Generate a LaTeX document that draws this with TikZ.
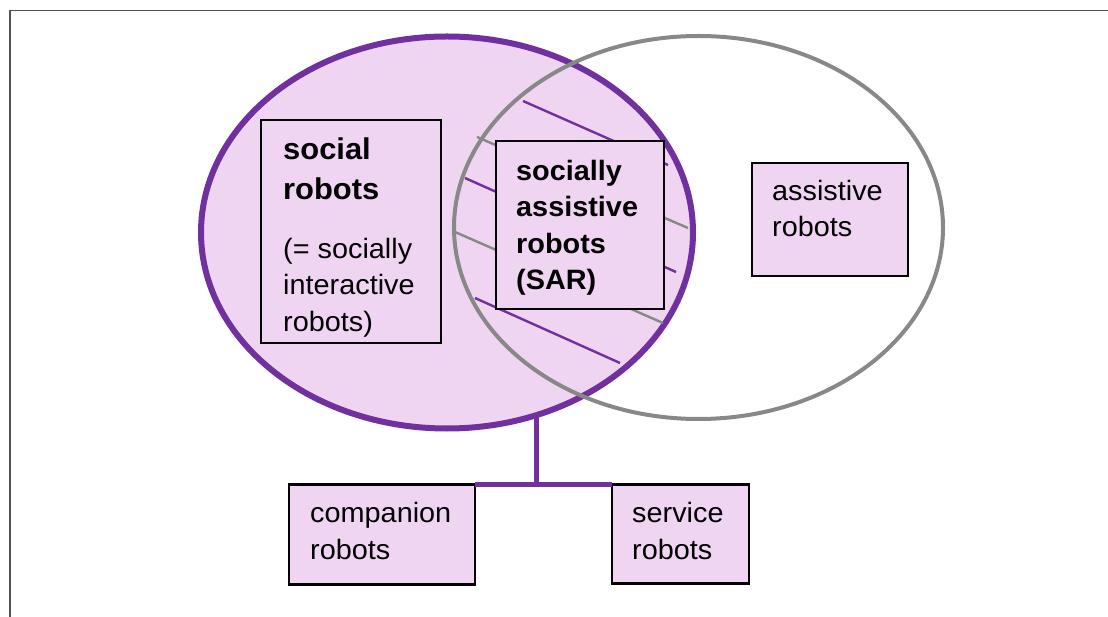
\documentclass[tikz,border=0pt]{standalone}
\usepackage{fontspec}
\setmainfont{Liberation Sans}[FakeStretch=1.03]
\usetikzlibrary{shapes.geometric}
\definecolor{setpurple}{RGB}{112,48,160}
\definecolor{setfill}{RGB}{240,213,242}
\definecolor{setgray}{RGB}{136,136,136}
\definecolor{framegray}{RGB}{80,80,80}
\begin{document}
\begin{tikzpicture}[x=1pt,y=-1pt,
  setshape/.style={ellipse, inner sep=0pt, outer sep=0pt},
  box/.style={draw=black, line width=2.4pt, fill=setfill, inner sep=0pt, outer sep=0pt, anchor=north west},
  boxtext/.style={anchor=north west, inner sep=0pt, align=left, font=\fontsize{28}{36.5}\selectfont},
  titletext/.style={boxtext, font=\fontsize{30}{40}\selectfont\bfseries},
  hatchp/.style={setpurple, line width=2.4pt},
  hatchg/.style={setgray, line width=2.4pt},
  link/.style={setpurple, line width=5pt}]

\useasboundingbox (0,0) rectangle (1108,617);
\fill[white] (0,0) rectangle (1108,617);
\draw[framegray, line width=1.6pt] (10,617) -- (10,10.5) -- (1108,10.5);

% the two sets
\node[setshape, fill=setfill, draw=setpurple, line width=6pt,
      minimum width=492pt, minimum height=392pt] (social) at (447,232.5) {};
\node[setshape, draw=setgray, line width=4pt,
      minimum width=489pt, minimum height=383pt] (assist) at (698.5,227.5) {};

% hatching of the overlap
\draw[hatchp] (523,101) -- (668,165);
\draw[hatchg] (477,137) -- (688,228);
\draw[hatchp] (465,178) -- (676,272);
\draw[hatchg] (455,232) -- (663,323);
\draw[hatchp] (475,298) -- (620,363);

% boxes
\node[box, minimum width=180pt, minimum height=223pt] (socbox) at (261,120) {};
\node[box, minimum width=168pt, minimum height=168pt] (sarbox) at (496,141) {};
\node[box, minimum width=156pt, minimum height=113pt] (asbox) at (752,163) {};
\node[box, minimum width=186pt, minimum height=100pt] (companion) at (289,484.5) {};
\node[box, minimum width=137pt, minimum height=99pt] (service) at (612,484.5) {};

% texts
\node[titletext] (soctitle) at ([shift={(22,18)}]socbox.north west)
  {social\\robots};
\node[boxtext] (socdesc) at ([shift={(22,118)}]socbox.north west)
  {(= socially\\interactive\\robots)};
\node[boxtext, font=\fontsize{28}{36.5}\selectfont\bfseries] (sartext) at ([shift={(20,19)}]sarbox.north west)
  {socially\\assistive\\robots\\(SAR)};
\node[boxtext] (astext) at ([shift={(20,17)}]asbox.north west)
  {assistive\\robots};
\node[boxtext] (comptext) at ([shift={(21,18)}]companion.north west)
  {companion\\robots};
\node[boxtext] (servtext) at ([shift={(20,18)}]service.north west)
  {service\\robots};

% links to the subtypes
\coordinate (tee) at (social.-64.2 |- companion.north);
\draw[link] (social.-64.2) -- (tee);
\draw[link] (companion.north east) -- (service.north west);
\end{tikzpicture}
\end{document}
